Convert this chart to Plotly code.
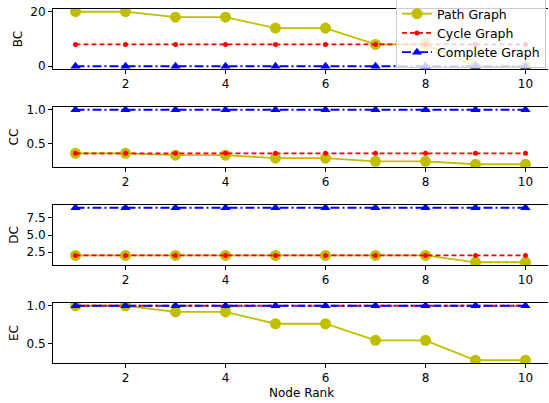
import plotly.graph_objects as go
from plotly.subplots import make_subplots

rank = [1, 2, 3, 4, 5, 6, 7, 8, 9, 10]

bc_path = [20, 20, 18, 18, 14, 14, 8, 8, 0, 0]
bc_cycle = [8, 8, 8, 8, 8, 8, 8, 8, 8, 8]
bc_complete = [0, 0, 0, 0, 0, 0, 0, 0, 0, 0]

cc_path = [0.36, 0.36, 0.333, 0.333, 0.29, 0.29, 0.243, 0.243, 0.2, 0.2]
cc_cycle = [0.36, 0.36, 0.36, 0.36, 0.36, 0.36, 0.36, 0.36, 0.36, 0.36]
cc_complete = [1, 1, 1, 1, 1, 1, 1, 1, 1, 1]

dc_path = [2, 2, 2, 2, 2, 2, 2, 2, 1, 1]
dc_cycle = [2, 2, 2, 2, 2, 2, 2, 2, 2, 2]
dc_complete = [9, 9, 9, 9, 9, 9, 9, 9, 9, 9]

ec_path = [1.0, 1.0, 0.919, 0.919, 0.764, 0.764, 0.546, 0.546, 0.285, 0.285]
ec_cycle = [1, 1, 1, 1, 1, 1, 1, 1, 1, 1]
ec_complete = [1, 1, 1, 1, 1, 1, 1, 1, 1, 1]

panels = [
    ("BC", bc_path, bc_cycle, bc_complete, [-1, 21], [0, 20], ["0", "20"]),
    ("CC", cc_path, cc_cycle, cc_complete, [0.16, 1.04], [0.5, 1.0], ["0.5", "1.0"]),
    ("DC", dc_path, dc_cycle, dc_complete, [0.6, 9.4], [2.5, 5.0, 7.5], ["2.5", "5.0", "7.5"]),
    ("EC", ec_path, ec_cycle, ec_complete, [0.249, 1.036], [0.5, 1.0], ["0.5", "1.0"]),
]

YEL = "#bfbf00"
RED = "#ff0000"
BLU = "#0000ff"
FONT = "DejaVu Sans"

fig = make_subplots(rows=4, cols=1)

# pixel layout: plot area left=53, right=548, top=9, bottom=363
L, R, T, B = 53, 548, 9, 363
tops = [9, 107, 205, 303]
H = 60
def py(p):
    return (B - p) / float(B - T)
def px(p):
    return (p - L) / float(R - L)

for i, (name, p, c, k, yr, tv, tt) in enumerate(panels):
    r = i + 1
    show = (i == 0)
    fig.add_trace(go.Scatter(x=rank, y=p, mode="lines+markers", name="Path Graph",
                             line=dict(color=YEL, width=1.8),
                             marker=dict(color=YEL, size=11, symbol="circle"),
                             showlegend=show), row=r, col=1)
    fig.add_trace(go.Scatter(x=rank, y=c, mode="lines+markers", name="Cycle Graph",
                             line=dict(color=RED, width=1.8, dash="5px,3px"),
                             marker=dict(color=RED, size=5, symbol="circle"),
                             showlegend=show), row=r, col=1)
    fig.add_trace(go.Scatter(x=rank, y=k, mode="lines+markers", name="Complete Graph",
                             line=dict(color=BLU, width=1.8, dash="9px,3px,2px,3px"),
                             marker=dict(color=BLU, size=9, symbol="triangle-up"),
                             showlegend=show), row=r, col=1)
    t = tops[i]
    fig.update_yaxes(row=r, col=1, domain=[py(t + H), py(t)], range=yr,
                     tickvals=tv, ticktext=tt, ticks="outside", ticklen=4,
                     tickcolor="black", showline=True, linecolor="black",
                     linewidth=1, mirror=False, showgrid=False, zeroline=False,
                     automargin=False,
                     title=dict(text=name, standoff=5,
                                font=dict(size=12, color="black", family=FONT)),
                     tickfont=dict(size=12, color="black", family=FONT))
    fig.update_xaxes(row=r, col=1, range=[0.55, 10.45], tickvals=[2, 4, 6, 8, 10],
                     ticks="outside", ticklen=4, tickcolor="black",
                     showline=True, linecolor="black", linewidth=1, mirror=True,
                     showgrid=False, zeroline=False, automargin=False,
                     tickfont=dict(size=12, color="black", family=FONT))

fig.add_annotation(text="Node Rank", xref="paper", yref="paper",
                   x=px(301), y=py(393), xanchor="center", yanchor="middle",
                   showarrow=False, font=dict(size=12, color="black", family=FONT))

fig.update_layout(
    width=549, height=403,
    margin=dict(l=L, r=549 - R, t=T, b=403 - B, autoexpand=False),
    paper_bgcolor="white", plot_bgcolor="white",
    font=dict(family=FONT, size=12, color="black"),
    legend=dict(x=px(396), y=py(-2), xanchor="left", yanchor="top",
                bgcolor="rgba(255,255,255,0.8)", bordercolor="#cccccc", borderwidth=1,
                font=dict(size=12.5, color="black", family=FONT),
                tracegroupgap=0, itemwidth=30),
)

fig.write_html("out.html", config={"displayModeBar": False},
               post_script="document.body.style.margin='0px';document.body.style.overflow='hidden';")
